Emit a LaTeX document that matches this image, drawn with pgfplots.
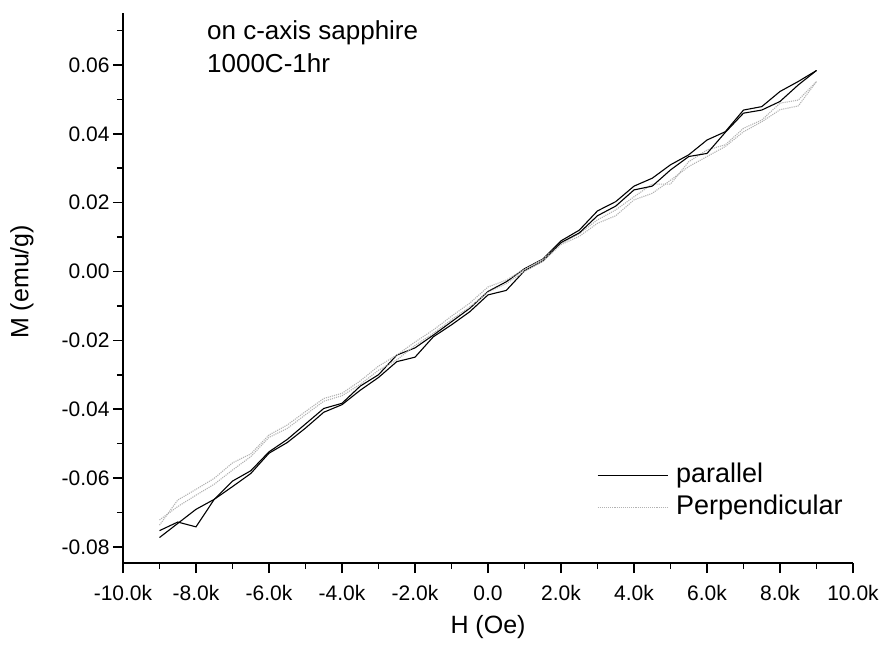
\documentclass[border=0pt]{standalone}
\usepackage{fontspec}
\setmainfont{Liberation Sans}
\usepackage{pgfplots}
\pgfplotsset{compat=1.18}
\usepackage{pgfplotstable}

% M-H loops: A = field sweep down, B = field sweep up
\pgfplotstableread{
H      parA     parB     perA     perB
-9000 -0.0753 -0.0773 -0.0737 -0.0722
-8500 -0.0728 -0.0732 -0.0664 -0.0683
-8000 -0.0742 -0.0691 -0.0633 -0.0650
-7500 -0.0662 -0.0662 -0.0601 -0.0618
-7000 -0.0609 -0.0625 -0.0556 -0.0577
-6500 -0.0579 -0.0587 -0.0530 -0.0538
-6000 -0.0524 -0.0528 -0.0475 -0.0482
-5500 -0.0488 -0.0497 -0.0446 -0.0456
-5000 -0.0443 -0.0455 -0.0407 -0.0416
-4500 -0.0398 -0.0409 -0.0369 -0.0377
-4000 -0.0383 -0.0387 -0.0354 -0.0361
-3500 -0.0333 -0.0345 -0.0318 -0.0328
-3000 -0.0300 -0.0308 -0.0275 -0.0287
-2500 -0.0243 -0.0262 -0.0243 -0.0257
-2000 -0.0222 -0.0249 -0.0205 -0.0215
-1500 -0.0185 -0.0190 -0.0170 -0.0180
-1000 -0.0146 -0.0155 -0.0130 -0.0140
-500  -0.0107 -0.0117 -0.0092 -0.0103
0     -0.0058 -0.0068 -0.0045 -0.0060
500   -0.0030 -0.0055 -0.0025 -0.0035
1000   0.0008  0.0002  0.0006  0.0000
1500   0.0036  0.0030  0.0036  0.0030
2000   0.0089  0.0084  0.0082  0.0078
2500   0.0120  0.0112  0.0110  0.0102
3000   0.0176  0.0162  0.0150  0.0140
3500   0.0203  0.0190  0.0179  0.0162
4000   0.0248  0.0237  0.0217  0.0208
4500   0.0271  0.0248  0.0254  0.0227
5000   0.0310  0.0295  0.0254  0.0265
5500   0.0339  0.0334  0.0319  0.0305
6000   0.0382  0.0343  0.0353  0.0334
6500   0.0406  0.0404  0.0368  0.0363
7000   0.0469  0.0460  0.0416  0.0406
7500   0.0479  0.0469  0.0440  0.0435
8000   0.0523  0.0494  0.0489  0.0470
8500   0.0552  0.0542  0.0498  0.0481
9000   0.0584  0.0584  0.0552  0.0552
}\loopdata

\begin{document}
\begin{tikzpicture}
\path[use as bounding box] (-123pt,-86pt) rectangle (762pt,563pt);
\begin{axis}[
  at={(0pt,0pt)}, anchor=south west,
  scale only axis, width=730pt, height=550pt,
  xmin=-10000, xmax=10000, ymin=-0.0847, ymax=0.0751,
  axis lines=left, axis line style={-, line width=2pt},
  tick align=outside, xtick pos=left, ytick pos=left,
  major tick length=10pt, minor tick length=6pt,
  tick style={black, line width=1.6pt},
  scaled ticks=false,
  xtick={-10000,-8000,-6000,-4000,-2000,0,2000,4000,6000,8000,10000},
  xticklabels={-10.0k,-8.0k,-6.0k,-4.0k,-2.0k,0.0,2.0k,4.0k,6.0k,8.0k,10.0k},
  minor xtick={-9000,-7000,-5000,-3000,-1000,1000,3000,5000,7000,9000},
  ytick={-0.08,-0.06,-0.04,-0.02,0,0.02,0.04,0.06},
  yticklabels={-0.08,-0.06,-0.04,-0.02,0.00,0.02,0.04,0.06},
  minor ytick={-0.07,-0.05,-0.03,-0.01,0.01,0.03,0.05,0.07},
  tick label style={font=\fontsize{21}{24}\selectfont},
  xticklabel style={yshift=-9pt},
  xlabel={H (Oe)},
  ylabel={M (emu/g)},
  label style={font=\fontsize{25}{30}\selectfont},
  xlabel style={at={(axis cs:0,-0.1033)}, anchor=center},
  ylabel style={at={(axis cs:-12770,-0.003)}, anchor=center, rotate=0},
  legend style={at={(rel axis cs:0.645,0.191)}, anchor=north west,
    draw=none, fill=none, font=\fontsize{27}{30}\selectfont,
    row sep=2pt, column sep=6pt,
    nodes={inner sep=2pt, text height=20pt, text depth=6pt}},
  legend cell align=left,
  legend image code/.code={\draw[#1] (0pt,0pt) -- (70pt,0pt);},
  clip=false,
]
\addplot[black, line width=1.1pt] table[x=H, y=parA] {\loopdata};
\addlegendentry{parallel}
\addplot[gray!60, densely dotted, line width=1.1pt] table[x=H, y=perA] {\loopdata};
\addlegendentry{Perpendicular}
\addplot[black, line width=1.1pt, forget plot] table[x=H, y=parB] {\loopdata};
\addplot[gray!60, densely dotted, line width=1.1pt, forget plot] table[x=H, y=perB] {\loopdata};

\node[anchor=base west, inner sep=0pt, font=\fontsize{26}{30}\selectfont]
  at (rel axis cs:0.115,0.952) {on c-axis sapphire};
\node[anchor=base west, inner sep=0pt, font=\fontsize{26}{30}\selectfont]
  at (rel axis cs:0.115,0.8915) {1000C-1hr};
\end{axis}
\end{tikzpicture}
\end{document}
